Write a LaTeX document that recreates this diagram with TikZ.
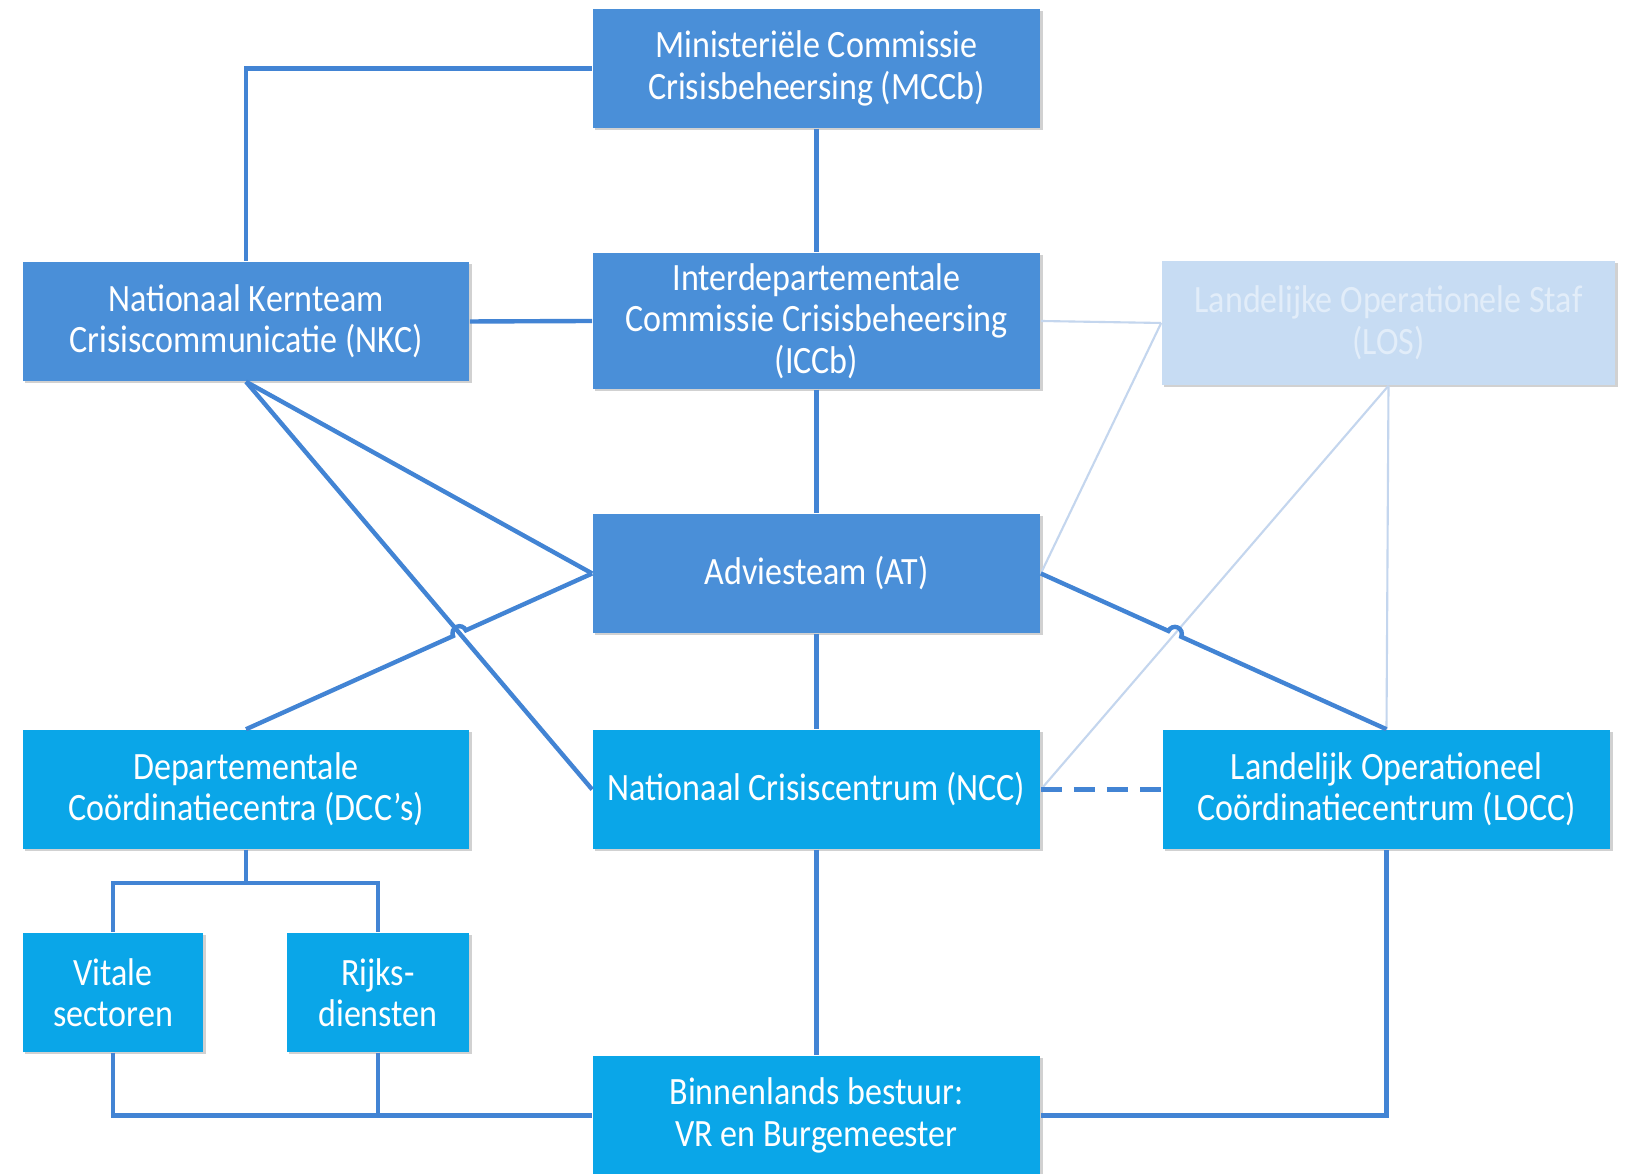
\documentclass[tikz,border=0pt]{standalone}
\usepackage{fontspec}
\setmainfont{Carlito}[FakeStretch=0.88]
\usetikzlibrary{calc,intersections,shadows}
\definecolor{boxblue}{RGB}{74,143,216}
\definecolor{boxcyan}{RGB}{10,166,232}
\definecolor{linkblue}{RGB}{66,132,212}
\definecolor{fadebox}{RGB}{199,220,243}
\definecolor{fadeline}{RGB}{196,214,238}
\definecolor{fadetext}{RGB}{226,237,249}
\tikzset{
  orgbox/.style={rectangle, inner sep=0pt, align=center, text=white,
    font=\fontsize{11pt}{11.8pt}\selectfont,
    drop shadow={shadow xshift=0.7pt, shadow yshift=-0.7pt, fill=black, opacity=0.18}},
  upper/.style={orgbox, fill=boxblue},
  lower/.style={orgbox, fill=boxcyan},
  faded/.style={orgbox, fill=fadebox, text=fadetext},
  wide/.style={minimum width=4.47cm, minimum height=1.19cm},
  link/.style={draw=linkblue, line width=1.25pt},
  faintlink/.style={draw=fadeline, line width=0.6pt},
  dashlink/.style={link, dash pattern=on 6pt off 3.4pt}
}
\begin{document}
\begin{tikzpicture}[x=0.01cm,y=0.01cm]
\useasboundingbox (0,0) rectangle (1626,-1174);
\clip (0,0) rectangle (1626,-1174);
\fill[white] (0,0) rectangle (1626,-1174);

\node[upper, wide] (mccb) at (816.5,-68.5) {Ministeriële Commissie\\Crisisbeheersing (MCCb)};
\node[upper, minimum width=4.46cm, minimum height=1.19cm] (nkc) at (246,-321.5) {Nationaal Kernteam\\Crisiscommunicatie (NKC)};
\node[upper, minimum width=4.47cm, minimum height=1.36cm] (iccb) at (816.5,-321) {Interdepartementale\\Commissie Crisisbeheersing\\(ICCb)};
\node[faded, minimum width=4.53cm, minimum height=1.24cm] (los) at (1388.5,-323) {Landelijke Operationele Staf\\(LOS)};
\node[upper, wide] (at) at (816.5,-573.5) {Adviesteam (AT)};
\node[lower, minimum width=4.46cm, minimum height=1.19cm] (dcc) at (246,-789.5) {Departementale\\Coördinatiecentra (DCC’s)};
\node[lower, wide] (ncc) at (816.5,-789.5) {Nationaal Crisiscentrum (NCC)};
\node[lower, wide] (locc) at (1386.5,-789.5) {Landelijk Operationeel\\Coördinatiecentrum (LOCC)};
\node[lower, minimum width=1.80cm, minimum height=1.19cm] (vit) at (113,-992.5) {Vitale\\sectoren};
\node[lower, minimum width=1.82cm, minimum height=1.19cm] (rij) at (378,-992.5) {Rijks-\\diensten};
\node[lower, wide] (binn) at (816.5,-1115.5) {Binnenlands bestuur:\\VR en Burgemeester};

% faint connections to LOS
\draw[faintlink] (iccb.east) -- (los.west);
\draw[faintlink] (at.east) -- (los.west);
\draw[faintlink, name path=fl] (ncc.east) -- (los.south);
\draw[faintlink] (los.south) -- (locc.north);

% main connections
\draw[link] (mccb.west) -| (nkc.north);
\draw[link] (mccb.south) -- (iccb.north);
\draw[link] (nkc.east) -- (iccb.west);
\draw[link] (iccb.south) -- (at.north);
\draw[link] (nkc.south) -- (at.west);
\draw[link, name path=nl] (nkc.south) -- (ncc.west);
\draw[link] (at.south) -- (ncc.north);
\draw[link] (ncc.south) -- (binn.north);
\draw[dashlink] (ncc.east) -- (locc.west);

% jump: DCC -> AT over NKC -> NCC
\path[name path=dl] (dcc.north) -- (at.west);
\path[name intersections={of=nl and dl, by=xa}];
\coordinate (xa1) at ($(xa)!0.07cm!(dcc.north)$);
\draw[link] let \p1=($(at.west)-(dcc.north)$), \n1={atan2(\y1,\x1)} in
  (dcc.north) -- (xa1) arc[start angle=\n1+180, end angle=\n1, radius=0.07cm] -- (at.west);

% jump: AT -> LOCC over faint NCC -> LOS
\path[name path=al] (at.east) -- (locc.north);
\path[name intersections={of=fl and al, by=xb}];
\coordinate (xb1) at ($(xb)!0.07cm!(at.east)$);
\draw[link] let \p1=($(locc.north)-(at.east)$), \n1={atan2(\y1,\x1)} in
  (at.east) -- (xb1) arc[start angle=\n1+180, end angle=\n1, radius=0.07cm] -- (locc.north);

% DCC tree
\coordinate (dj) at (246,-883);
\draw[link] (dcc.south) -- (dj);
\draw[link] (vit.north) |- (dj) -| (rij.north);
\draw[link] (vit.south) |- (binn.west);
\draw[link] (rij.south) -- (rij.south |- binn.west);
\draw[link] (binn.east) -| (locc.south);
\end{tikzpicture}
\end{document}
